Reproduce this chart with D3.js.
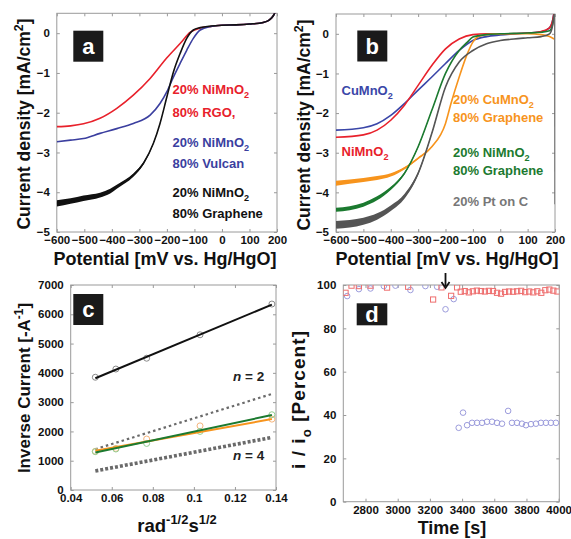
<!DOCTYPE html>
<html><head><meta charset="utf-8">
<script src="https://cdn.jsdelivr.net/npm/d3@7"></script>
<style>
body{margin:0;background:#fff}
svg{display:block}
text{font-family:"Liberation Sans",Arial,Helvetica,sans-serif;font-weight:bold}
</style>
</head><body>
<svg id="c" width="571" height="539"></svg>
<script>
// ---------- Panel a data ----------
const aRedX   = [-600,-550,-503,-443,-382,-322,-261,-200,-152,-116,-79,-40,0,50,100,150,170,180,190,197];
const aRedY   = [-2.35,-2.33,-2.28,-2.14,-1.89,-1.56,-1.14,-0.62,-0.26,0.02,0.13,0.17,0.2,0.21,0.23,0.27,0.32,0.38,0.48,0.6];
const aBlueX  = [-600,-550,-503,-443,-382,-322,-261,-225,-200,-176,-152,-128,-104,-79,-40,0,50,100,150,170,180,190,197];
const aBlueY  = [-2.73,-2.69,-2.65,-2.52,-2.4,-2.27,-2.06,-1.77,-1.47,-1.1,-0.76,-0.43,-0.13,0.08,0.17,0.2,0.21,0.23,0.27,0.32,0.38,0.48,0.6];
const aBlackX = [-600,-550,-503,-443,-406,-382,-322,-285,-249,-225,-200,-176,-152,-128,-104,-79,-40,0,50,100,150,170,180,190,197];
const aBlackY = [-4.28,-4.22,-4.15,-4.07,-3.97,-3.86,-3.57,-3.27,-2.77,-2.27,-1.6,-0.97,-0.51,-0.13,0.08,0.14,0.18,0.2,0.21,0.23,0.27,0.32,0.38,0.48,0.6];
const aBlackNoise = [0.08,0.07,0.07,0.06,0.06,0.05,0.04,0.03,0.02,0.01,0,0,0,0,0,0,0,0,0,0,0,0,0,0,0];
const aXTicks = [-600,-500,-400,-300,-200,-100,0,100,200];
const aYTicks = [0,-1,-2,-3,-4,-5];

// ---------- Panel b data ----------
const bBlueX  = [-600,-500,-450,-400,-350,-300,-250,-200,-150,-100,-50,0,100,150,180,190,197];
const bBlueY  = [-2.43,-2.37,-2.27,-2.06,-1.76,-1.42,-1.09,-0.75,-0.42,-0.17,-0.07,-0.03,0.02,0.05,0.15,0.3,0.55];
const bRedX   = [-600,-500,-450,-400,-350,-300,-250,-200,-150,-100,-50,0,100,150,180,190,197];
const bRedY   = [-2.61,-2.55,-2.43,-2.18,-1.8,-1.3,-0.8,-0.38,-0.13,-0.02,0,0,0.02,0.06,0.15,0.3,0.55];
const bOrangeX = [-600,-500,-450,-400,-350,-300,-250,-200,-180,-150,-120,-100,-80,-50,0,100,150,180,197];
const bOrangeY = [-3.77,-3.69,-3.64,-3.56,-3.39,-3.14,-2.85,-2.26,-1.76,-1.09,-0.5,-0.21,-0.07,-0.02,0,0,-0.02,-0.07,-0.13];
const bOrangeNoise = [0.06,0.05,0.05,0.04,0.03,0.02,0.01,0,0,0,0,0,0,0,0,0,0,0,0];
const bGreenX = [-600,-500,-450,-400,-350,-300,-250,-200,-150,-120,-100,-50,0,100,150,180,190,197];
const bGreenY = [-4.44,-4.31,-4.15,-3.9,-3.52,-2.85,-1.93,-1.0,-0.42,-0.21,-0.08,-0.02,0,0.02,0.04,0.08,0.2,0.45];
const bGreenNoise = [0.05,0.05,0.05,0.04,0.03,0.02,0.01,0,0,0,0,0,0,0,0,0,0,0];
const bGreyX  = [-600,-500,-450,-400,-350,-300,-250,-200,-150,-100,-50,0,50,100,150,180,190,197];
const bGreyY  = [-4.82,-4.73,-4.61,-4.4,-4.1,-3.52,-2.51,-1.34,-0.71,-0.42,-0.25,-0.17,-0.13,-0.1,-0.07,0,0.17,0.5];
const bGreyNoise = [0.1,0.09,0.08,0.07,0.06,0.04,0.02,0.01,0,0,0,0,0,0,0,0,0,0];
const bDropX = [199,200];
const bDropY = [0.5,-4.3];
const bXTicks = aXTicks;
const bYTicks = aYTicks;

// ---------- Panel c data ----------
const cX      = [0.052,0.062,0.077,0.103,0.138];
const cBlack  = [3850,4130,4500,5300,6350];
const cOrange = [1320,1420,1740,2190,2420];
const cGreen  = [1310,1400,1590,2000,2570];
const cFitX   = [0.052,0.138];
const cBlackFit  = [3817,6331];
const cOrangeFit = [1337,2423];
const cGreenFit  = [1280,2560];
const cN2Fit  = [1394,3280];
const cN4Fit  = [651,1794];
const cXTicks = [0.04,0.06,0.08,0.1,0.12,0.14];
const cXLabels = ["0.04","0.06","0.08","0.1","0.12","0.14"];
const cYTicks = [0,1000,2000,3000,4000,5000,6000,7000];

// ---------- Panel d data ----------
const dCircT = [2686,2759,2831,2914,2986,3079,3172,3245,3297,3348,3379,3406,3431,3462,3493,3524,3555,3586,3617,3648,3686,3710,3741,3772,3797,3828,3859,3890,3921,3952,3983];
const dCircV = [94.9,98.1,98.4,99.5,99.7,97.7,99.5,99.2,88.8,93.5,34.1,41.1,35.3,36.4,36.4,36.4,36.9,36.9,36.4,36.0,41.9,36.4,36.4,36.0,35.3,35.8,36.0,36.4,36.4,36.4,36.4];
const dSqT = [2676,2713,2759,2831,2934,3065,3220,3272,3332,3369,3392,3417,3442,3467,3492,3517,3542,3567,3592,3617,3642,3667,3692,3717,3742,3767,3792,3817,3842,3867,3892,3917,3942,3967,3992];
const dSqV = [96.4,99.7,99.5,99.7,98.8,99.2,93.3,98.9,95.0,98.9,96.9,97.2,96.6,97.1,97.4,97.2,97.0,97.3,97.2,96.4,96.0,96.8,97.0,96.9,97.1,97.3,96.7,97.0,96.6,97.1,96.4,97.6,97.9,97.4,97.0];
const dArrowT = 3297;
const dXTicks = [2800,3000,3200,3400,3600,3800,4000];
const dYTicks = [0,20,40,60,80,100];

// ---------- drawing ----------
const svg = d3.select("#c");
const defs = svg.append("defs");
const FRAME = "#9a9a9a";

function makePanel(id, box, xdom, ydom, xticks, yticks, xfmt, yfmt){
  const [x0,x1,y0,y1] = box;
  const x = d3.scaleLinear().domain(xdom).range([x0,x1]);
  const y = d3.scaleLinear().domain(ydom).range([y1,y0]);
  defs.append("clipPath").attr("id","clip-"+id).append("rect")
    .attr("x",x0).attr("y",y0).attr("width",x1-x0).attr("height",y1-y0);
  const g = svg.append("g");
  const axes = [
    [d3.axisBottom(x).tickValues(xticks).tickFormat(xfmt), `translate(0,${y1})`, 4],
    [d3.axisTop(x).tickValues(xticks).tickFormat(""), `translate(0,${y0})`, 0],
    [d3.axisLeft(y).tickValues(yticks).tickFormat(yfmt), `translate(${x0},0)`, 7],
    [d3.axisRight(y).tickValues(yticks).tickFormat(""), `translate(${x1},0)`, 0]
  ];
  axes.forEach(([ax,tr,pad])=>{
    const a = g.append("g").attr("transform",tr)
      .call(ax.tickSizeInner(-3).tickSizeOuter(0).tickPadding(pad));
    a.select(".domain").remove();
    a.selectAll(".tick line").attr("stroke",FRAME);
    a.selectAll(".tick text").attr("fill","#111").attr("font-size",11.5)
      .attr("font-family","'Liberation Sans',Arial,sans-serif").attr("font-weight","bold");
  });
  g.append("rect").attr("x",x0).attr("y",y0).attr("width",x1-x0).attr("height",y1-y0)
    .attr("fill","none").attr("stroke",FRAME).attr("stroke-width",1);
  const data = g.append("g").attr("clip-path",`url(#clip-${id})`);
  return {g, data, x, y};
}

function rich(sel, parts, size){
  let shift = 0;
  parts.forEach(([t,k])=>{
    const ts = sel.append("tspan").text(t);
    const target = k==="sub" ? size*0.3 : k==="sup" ? -size*0.42 : 0;
    ts.attr("dy", target-shift);
    shift = target;
    if(k) ts.attr("font-size", size*0.7);
  });
}
function label(g, x, y, parts, color, size, anchor){
  const t = g.append("text").attr("x",x).attr("y",y).attr("fill",color)
    .attr("font-size",size).attr("text-anchor",anchor||"start");
  rich(t, parts, size);
  return t;
}
function ytitle(g, x, y, parts, size, len){
  const t = g.append("text").attr("transform",`translate(${x},${y}) rotate(-90)`)
    .attr("text-anchor","middle").attr("font-size",size).attr("fill","#111");
  if(len) t.attr("textLength",len).attr("lengthAdjust","spacing");
  rich(t, parts, size);
}
function badge(x,y,w,h,ch){
  svg.append("rect").attr("x",x).attr("y",y).attr("width",w).attr("height",h).attr("fill","#1a1a1a");
  svg.append("text").attr("x",x+w/2).attr("y",y+h/2+7.5).attr("text-anchor","middle")
    .attr("fill","#fff").attr("font-size",22).text(ch);
}
function curve(p, xs, ys, color, w){
  const pts = xs.map((v,i)=>[v,ys[i]]);
  p.data.append("path").datum(pts)
    .attr("d", d3.line().x(d=>p.x(d[0])).y(d=>p.y(d[1])).curve(d3.curveMonotoneX))
    .attr("fill","none").attr("stroke",color).attr("stroke-width",w||1.6);
}
function band(p, xs, ys, ns, color){
  const pts = xs.map((v,i)=>[v,ys[i],ns[i]]);
  p.data.append("path").datum(pts)
    .attr("d", d3.area().x(d=>p.x(d[0])).y0(d=>p.y(d[1]-d[2])).y1(d=>p.y(d[1]+d[2])).curve(d3.curveMonotoneX))
    .attr("fill",color).attr("stroke","none");
}

// ----- Panel a -----
const pa = makePanel("a",[56.8,277,13.3,232],[-600,200],[-5,0.5],aXTicks,aYTicks,d3.format("d"),d3.format("d"));
curve(pa, aRedX, aRedY, "#e8212b");
curve(pa, aBlueX, aBlueY, "#3b3f9f");
band(pa, aBlackX, aBlackY, aBlackNoise, "#111");
curve(pa, aBlackX, aBlackY, "#111");
badge(73.3,30.7,30,31,"a");
const aLab = [
  [[["20% NiMnO",null],["2","sub"]],"#e8212b",94],
  [[["80% RGO,",null]],"#e8212b",117.3],
  [[["20% NiMnO",null],["2","sub"]],"#3b3f9f",146.7],
  [[["80% Vulcan",null]],"#3b3f9f",167.7],
  [[["20% NiMnO",null],["2","sub"]],"#111",197.3],
  [[["80% Graphene",null]],"#111",218.3]
];
aLab.forEach(([p,c,y])=>label(pa.g,172.5,y,p,c,13));
label(svg,165,265,[["Potential [mV vs. Hg/HgO]",null]],"#111",18,"middle");
ytitle(svg,30,124,[["Current density [mA/cm",null],["2","sup"],["]",null]],17.5);

// ----- Panel b -----
const pb = makePanel("b",[336,555,14,232],[-600,200],[-5,0.5],bXTicks,bYTicks,d3.format("d"),d3.format("d"));
curve(pb, bBlueX, bBlueY, "#3a46a8");
curve(pb, bRedX, bRedY, "#e8212b");
band(pb, bOrangeX, bOrangeY, bOrangeNoise, "#f7941d");
curve(pb, bOrangeX, bOrangeY, "#f7941d");
band(pb, bGreenX, bGreenY, bGreenNoise, "#1c7a30");
curve(pb, bGreenX, bGreenY, "#1c7a30");
band(pb, bGreyX, bGreyY, bGreyNoise, "#555");
curve(pb, bGreyX, bGreyY, "#555");
pb.data.append("path").datum(bDropX.map((v,i)=>[v,bDropY[i]]))
  .attr("d", d3.line().x(d=>pb.x(d[0])).y(d=>pb.y(d[1])))
  .attr("fill","none").attr("stroke","#666").attr("stroke-width",1.2);
badge(357.3,30.5,30,31,"b");
label(pb.g,341.5,95,[["CuMnO",null],["2","sub"]],"#3a46a8",13);
label(pb.g,341.5,156,[["NiMnO",null],["2","sub"]],"#e8212b",13);
label(pb.g,453,104,[["20% CuMnO",null],["2","sub"]],"#f7941d",13);
label(pb.g,453,122,[["80% Graphene",null]],"#f7941d",13);
label(pb.g,453,157,[["20% NiMnO",null],["2","sub"]],"#1c7a30",13);
label(pb.g,453,175,[["80% Graphene",null]],"#1c7a30",13);
label(pb.g,453,206,[["20% Pt on C",null]],"#777",13);
label(svg,447,265,[["Potential [mV vs. Hg/HgO]",null]],"#111",18,"middle");
ytitle(svg,310,125,[["Current density [mA/cm",null],["2","sup"],["]",null]],17.5);

// ----- Panel c -----
const pc = makePanel("c",[70.7,276,285,490],[0.04,0.14],[0,7000],cXTicks,cYTicks,(d,i)=>cXLabels[i],d3.format("d"));
function fit(ys,color,w,dash){
  const pts = cFitX.map((v,i)=>[v,ys[i]]);
  const p = pc.data.append("path").datum(pts)
    .attr("d", d3.line().x(d=>pc.x(d[0])).y(d=>pc.y(d[1])))
    .attr("fill","none").attr("stroke",color).attr("stroke-width",w);
  if(dash) p.attr("stroke-dasharray",dash);
}
function circles(p, xs, ys, color, r){
  p.data.selectAll(null).data(xs.map((v,i)=>[v,ys[i]])).enter().append("circle")
    .attr("cx",d=>p.x(d[0])).attr("cy",d=>p.y(d[1])).attr("r",r)
    .attr("fill","none").attr("stroke",color).attr("stroke-width",1);
}
fit(cN2Fit,"#6a6a6a",2.2,"2.5,3");
fit(cN4Fit,"#6a6a6a",3.6,"3,2");
circles(pc, cX, cBlack, "#8a8a8a", 3);
circles(pc, cX, cOrange, "#f6b57c", 3);
circles(pc, cX, cGreen, "#93cf93", 3);
fit(cBlackFit,"#111",2);
fit(cOrangeFit,"#f7941d",2);
fit(cGreenFit,"#1c7a30",2);
badge(73.3,294,30,31,"c");
const n2 = pc.g.append("text").attr("x",233).attr("y",381).attr("font-size",13.5).attr("fill","#222");
n2.append("tspan").attr("font-style","italic").text("n");
n2.append("tspan").text(" = 2");
const n4 = pc.g.append("text").attr("x",233).attr("y",460).attr("font-size",13.5).attr("fill","#222");
n4.append("tspan").attr("font-style","italic").text("n");
n4.append("tspan").text(" = 4");
label(svg,177,532,[["rad",null],["-1/2","sup"],["s",null],["1/2","sup"]],"#111",18.5,"middle");
ytitle(svg,30,388,[["Inverse Current [-A",null],["-1","sup"],["]",null]],17);

// ----- Panel d -----
const pd = makePanel("d",[343.3,559.3,285,501.7],[2662,4004],[0,100],dXTicks,dYTicks,d3.format("d"),d3.format("d"));
circles(pd, dCircT, dCircV, "#9c9cdc", 2.8);
pd.data.selectAll(null).data(dSqT.map((v,i)=>[v,dSqV[i]])).enter().append("rect")
  .attr("x",d=>pd.x(d[0])-2.6).attr("y",d=>pd.y(d[1])-2.6).attr("width",5.2).attr("height",5.2)
  .attr("fill","none").attr("stroke","#ee6e6e").attr("stroke-width",1);
badge(356.7,303.3,30.6,22,"d");
const ax = pd.x(dArrowT), ay = pd.y(100);
svg.append("line").attr("x1",ax).attr("x2",ax).attr("y1",ay-12).attr("y2",ay+1)
  .attr("stroke","#111").attr("stroke-width",1.8);
svg.append("path").attr("d",`M${ax-4},${ay-3} L${ax},${ay+3} L${ax+4},${ay-3}`)
  .attr("fill","none").attr("stroke","#111").attr("stroke-width",1.8);
label(svg,452,534,[["Time [s]",null]],"#111",18,"middle");
ytitle(svg,305,400,[["i / i",null],["o","sub"],[" [Percent]",null]],19,138);
</script>
</body></html>
